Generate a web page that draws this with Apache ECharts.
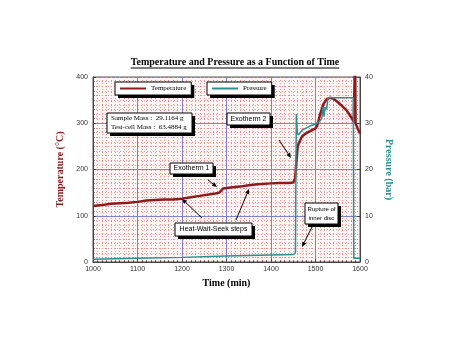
<!DOCTYPE html>
<html>
<head>
<meta charset="utf-8">
<script src="https://cdn.jsdelivr.net/npm/echarts@6/dist/echarts.min.js"></script>
<style>
html, body { margin: 0; padding: 0; background: #fff; }
#main { width: 453px; height: 354px; }
</style>
</head>
<body>
<div id="main"></div>
<script>
// time in minutes, temperature in degC
var tempTime = [1000, 1020, 1040, 1060, 1080, 1100, 1120, 1140, 1160, 1180, 1200, 1220, 1240, 1260, 1275, 1284, 1288, 1292, 1310, 1330, 1350, 1370, 1400, 1420, 1440, 1450, 1454, 1457, 1460, 1465, 1470, 1478, 1488, 1500, 1504, 1510, 1518, 1525, 1533, 1540, 1550, 1560, 1570, 1580, 1586, 1588, 1589, 1590, 1595, 1600];
var tempC = [121, 123, 126, 127, 128, 130, 133, 134, 135, 135, 137, 140, 143, 146, 148, 150, 151, 159, 161, 163, 166, 168, 170, 171, 171, 172, 180, 215, 250, 262, 272, 278, 283, 289, 295, 318, 342, 352, 355, 353, 346, 337, 328, 313, 303, 300, 460, 300, 288, 278];

// pressure in bar
var pressTime = [1000, 1100, 1200, 1300, 1400, 1450, 1455, 1456, 1457, 1459, 1462, 1470, 1480, 1490, 1500, 1510, 1514, 1517, 1519, 1522, 1525, 1528, 1560, 1585, 1586, 1600];
var pressBar = [0.6, 0.8, 1.0, 1.3, 1.5, 1.6, 2, 20, 32, 28, 27.5, 28.5, 29, 29.5, 29.8, 30.5, 31, 33.5, 31.5, 33.5, 33, 35.5, 35.5, 35.5, 0.8, 0.8];

var timeAxis = [1000, 1600, 100];
var tempAxis = [0, 400, 100];
var pressAxis = [0, 40, 10];

var titleText = 'Temperature and Pressure as a Function of Time';

function pairs(xs, ys) {
  return xs.map(function (x, i) { return [x, ys[i]]; });
}

// white box with a hard black drop shadow
function box(x, y, w, h, lines, font, align) {
  return [
    { type: 'rect', z: 99, shape: { x: x + 3, y: y + 3, width: w, height: h }, style: { fill: '#000' } },
    { type: 'rect', z: 100, shape: { x: x, y: y, width: w, height: h }, style: { fill: '#fff', stroke: '#000', lineWidth: 1 } },
    {
      type: 'text', z: 101,
      x: align === 'left' ? x + 4 : x + w / 2,
      y: y + h / 2,
      style: { text: lines.join('\n'), font: font, fill: '#000', align: align || 'center', verticalAlign: 'middle', lineHeight: 9 }
    }
  ];
}

function arrow(x1, y1, x2, y2) {
  var a = Math.atan2(y2 - y1, x2 - x1), L = 5, W = 2.2;
  var bx = x2 - L * Math.cos(a), by = y2 - L * Math.sin(a);
  return [
    { type: 'line', z: 100, shape: { x1: x1, y1: y1, x2: bx, y2: by }, style: { stroke: '#000', lineWidth: 1 } },
    { type: 'polygon', z: 100, shape: { points: [[x2, y2], [bx + W * Math.sin(a), by - W * Math.cos(a)], [bx - W * Math.sin(a), by + W * Math.cos(a)]] }, style: { fill: '#000' } }
  ];
}

var ctx = document.createElement('canvas').getContext('2d');
function textWidth(t, font) { ctx.font = font; return ctx.measureText(t).width; }

var titleFont = 'bold 10px "Liberation Serif"';
var tw = textWidth(titleText, titleFont);
var tcx = 235;

var sans = '7px "Liberation Sans"';
var small = '6px "Liberation Sans"';
var serif = '7px "Liberation Serif"';

// legend geometry (padding 2/5, icon 26, gap 5, line height 9)
var legendTop = 82;
var legendLefts = [115, 207];
var legendNames = ['Temperature', 'Pressure'];
var legendShadows = legendNames.map(function (n, i) {
  var w = 5 + 26 + 5 + textWidth(n, serif) + 5;
  return { type: 'rect', z: 3, shape: { x: legendLefts[i] + 3, y: legendTop + 3, width: w, height: 13 }, style: { fill: '#000' } };
});

var graphics = [
  { type: 'text', x: tcx, y: 62, style: { text: titleText, font: titleFont, fill: '#000', align: 'center', verticalAlign: 'middle' } },
  { type: 'line', shape: { x1: tcx - tw / 2, y1: 68, x2: tcx + tw / 2, y2: 68 }, style: { stroke: '#000', lineWidth: 1 } }
]
  .concat(legendShadows)
  .concat(box(107, 113, 85, 20, ['Sample Mass :  29.1164 g', 'Test-cell Mass :  63.4884 g'], serif, 'left'))
  .concat(box(170, 163, 43, 11, ['Exotherm 1'], sans))
  .concat(box(227, 113, 43, 12, ['Exotherm 2'], sans))
  .concat(box(175, 223, 77, 13, ['Heat-Wait-Seek steps'], sans))
  .concat(box(305, 203, 33, 21, ['Rupture of', 'inner disc'], small))
  .concat(arrow(208, 180, 217, 187))
  .concat(arrow(202, 218, 182, 199))
  .concat(arrow(236, 220, 249, 189))
  .concat(arrow(279, 140, 291, 158))
  .concat(arrow(312, 227, 302, 247));

var chart = echarts.init(document.getElementById('main'), null, { renderer: 'canvas' });

var legendBase = {
  top: legendTop,
  z: 4,
  orient: 'horizontal',
  selectedMode: false,
  backgroundColor: '#fff',
  borderColor: '#000',
  borderWidth: 1,
  borderRadius: 0,
  padding: [2, 5, 2, 5],
  icon: 'rect',
  itemWidth: 26,
  itemHeight: 2,
  itemGap: 4,
  textStyle: { fontFamily: 'Liberation Serif', fontSize: 7, lineHeight: 9, color: '#000' }
};

var numLabel = function (v) { return String(v); };

var option = {
  backgroundColor: '#fff',
  animation: false,
  grid: {
    left: 93, right: 93, top: 77, bottom: 92,
    show: true, borderColor: '#555', borderWidth: 1, backgroundColor: '#fff5f5'
  },
  legend: [
    Object.assign({}, legendBase, { left: legendLefts[0], data: [legendNames[0]] }),
    Object.assign({}, legendBase, { left: legendLefts[1], data: [legendNames[1]] })
  ],
  xAxis: {
    type: 'value',
    min: timeAxis[0], max: timeAxis[1], interval: timeAxis[2],
    name: 'Time (min)', nameLocation: 'middle', nameGap: 16,
    nameTextStyle: { fontFamily: 'Liberation Serif', fontWeight: 'bold', fontSize: 10, color: '#000' },
    axisLine: { lineStyle: { color: '#444' } },
    axisTick: { inside: true, length: 3, lineStyle: { color: '#444' } },
    minorTick: { show: true, splitNumber: 10, length: 1.5, lineStyle: { color: '#444' } },
    axisLabel: { fontFamily: 'Liberation Sans', fontSize: 7, color: '#333', margin: 4, formatter: numLabel },
    splitLine: { show: true, lineStyle: { color: '#8080d0', width: 1 } },
    minorSplitLine: { show: true, lineStyle: { color: '#eb8f8f', width: 1, type: [1, 2] } }
  },
  yAxis: [
    {
      type: 'value',
      min: tempAxis[0], max: tempAxis[1], interval: tempAxis[2],
      name: 'Temperature (°C)', nameLocation: 'middle', nameGap: 17,
      nameTextStyle: { fontFamily: 'Liberation Serif', fontWeight: 'bold', fontSize: 10, color: '#8b1a1a' },
      axisLine: { show: true, lineStyle: { color: '#444' } },
      axisTick: { show: true, inside: true, length: 3, lineStyle: { color: '#444' } },
      minorTick: { show: true, splitNumber: 10, length: 1.5, lineStyle: { color: '#444' } },
      axisLabel: { fontFamily: 'Liberation Sans', fontSize: 7, color: '#333', margin: 5, formatter: numLabel },
      splitLine: { show: true, lineStyle: { color: '#8080d0', width: 1 } },
      minorSplitLine: { show: true, lineStyle: { color: '#eb8f8f', width: 1, type: [1, 2] } }
    },
    {
      type: 'value',
      position: 'right',
      min: pressAxis[0], max: pressAxis[1], interval: pressAxis[2],
      name: 'Pressure (bar)', nameLocation: 'middle', nameGap: 17, nameRotate: -90,
      nameTextStyle: { fontFamily: 'Liberation Serif', fontWeight: 'bold', fontSize: 10, color: '#2a9090' },
      axisLine: { show: true, lineStyle: { color: '#444' } },
      axisTick: { show: true, inside: true, length: 3, lineStyle: { color: '#444' } },
      axisLabel: { fontFamily: 'Liberation Sans', fontSize: 7, color: '#333', margin: 5, formatter: numLabel },
      splitLine: { show: false }
    }
  ],
  series: [
    {
      name: 'Temperature', type: 'line', yAxisIndex: 0,
      symbol: 'none', clip: true,
      lineStyle: { color: '#8e1b1b', width: 2.5 },
      itemStyle: { color: '#8e1b1b' },
      data: pairs(tempTime, tempC)
    },
    {
      name: 'Pressure', type: 'line', yAxisIndex: 1,
      symbol: 'none', clip: true,
      lineStyle: { color: '#2a9090', width: 1.5 },
      itemStyle: { color: '#2a9090' },
      data: pairs(pressTime, pressBar)
    }
  ],
  graphic: graphics
};

chart.setOption(option);
</script>
</body>
</html>
